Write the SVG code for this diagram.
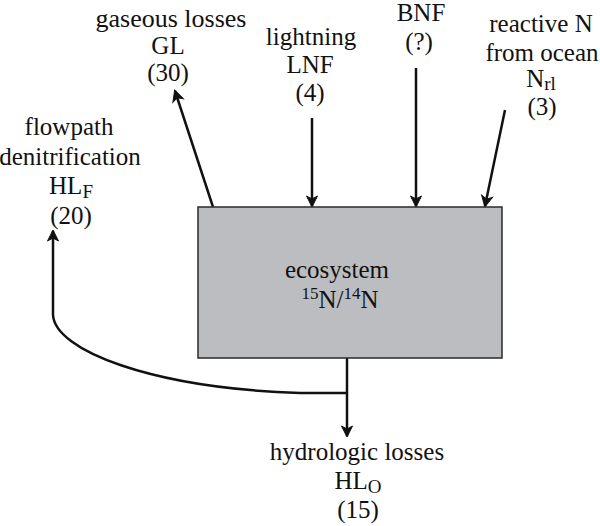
<svg xmlns="http://www.w3.org/2000/svg" width="600" height="526" viewBox="0 0 600 526">
<defs>
<style>
text{font-family:'Liberation Serif','Times New Roman',serif;font-size:25px;fill:#111;text-anchor:middle}
.sub{font-size:19px}
.sup{font-size:17px}
.conn{fill:none;stroke:#111;stroke-width:2.5;marker-end:url(#ah)}
</style>
<marker id="ah" markerUnits="userSpaceOnUse" markerWidth="16" markerHeight="14" viewBox="-12 -7 14 14" refX="0" refY="0" orient="auto">
<path d="M1,0 L-10,-5.5 L-7,0 L-10,5.5 Z" fill="#111" stroke="#111" stroke-width="1"/>
</marker>
</defs>
<rect width="600" height="526" fill="#fff"/>

<g id="connectors">
<line class="conn" x1="213" y1="207" x2="175" y2="91"/>
<line class="conn" x1="312" y1="118" x2="312" y2="206"/>
<line class="conn" x1="416" y1="68" x2="416" y2="206"/>
<line class="conn" x1="505" y1="110" x2="485" y2="206"/>
<line class="conn" x1="347" y1="358" x2="347" y2="436"/>
<path class="conn" d="M347,393 L300,393 C150,388 55,350 53,315 L53,231"/>
</g>

<g id="ecosystem">
<rect x="198" y="207" width="304" height="151" fill="#bcbdc0" stroke="#2a2a2a" stroke-width="1.5"/>
<text x="337" y="278">ecosystem</text>
<text x="340" y="308"><tspan class="sup" dy="-9">15</tspan><tspan dy="9">N/</tspan><tspan class="sup" dy="-9">14</tspan><tspan dy="9">N</tspan></text>
</g>

<g id="gaseous-losses">
<text x="171" y="27" style="font-size:26px">gaseous losses</text>
<text x="168" y="54">GL</text>
<text x="168" y="81">(30)</text>
</g>

<g id="lightning">
<text x="311" y="45">lightning</text>
<text x="310" y="73">LNF</text>
<text x="310" y="101">(4)</text>
</g>

<g id="bnf">
<text x="421" y="21">BNF</text>
<text x="419" y="50">(?)</text>
</g>

<g id="reactive-n">
<text x="541" y="32">reactive N</text>
<text x="542" y="61">from ocean</text>
<text x="541" y="87">N<tspan class="sub" dy="3">rl</tspan></text>
<text x="542" y="115">(3)</text>
</g>

<g id="flowpath">
<text x="71" y="194">HL<tspan class="sub" dy="4">F</tspan></text>
<text x="69" y="135">flowpath</text>
<text x="70" y="165">denitrification</text>
<text x="71" y="224">(20)</text>
</g>

<g id="hydrologic-losses">
<text x="357" y="460">hydrologic losses</text>
<text x="358" y="489">HL<tspan class="sub" dy="4">O</tspan></text>
<text x="358" y="518">(15)</text>
</g>
</svg>
